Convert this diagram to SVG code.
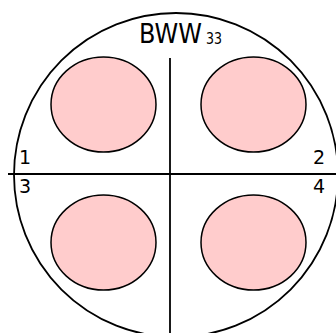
<svg xmlns="http://www.w3.org/2000/svg" width="336" height="333" viewBox="0 0 336 333">
<style>
.pin{fill:#ffcccc;stroke:#000;stroke-width:1.5}
.ln{stroke:#000;stroke-width:1.8;fill:none}
.lbl{font-family:"DejaVu Sans",sans-serif;font-size:19px;fill:#000}
.ttl{font-family:"DejaVu Sans",sans-serif;fill:#000}
</style>
<rect width="336" height="333" fill="#fff"/>
<g id="body">
<circle cx="176" cy="175" r="162" class="ln"/>
</g>
<g id="connectors">
<line x1="8" y1="174" x2="336" y2="174" class="ln"/>
<line x1="170" y1="58" x2="170" y2="333" class="ln"/>
</g>
<g id="title">
<text class="ttl" x="139" y="43" font-size="26" textLength="63" lengthAdjust="spacingAndGlyphs">BWW</text>
<text class="ttl" x="206" y="44" font-size="15" textLength="16" lengthAdjust="spacingAndGlyphs">33</text>
</g>
<g id="pin1">
<ellipse cx="103.5" cy="104.5" rx="52.5" ry="47.5" class="pin"/>
<text class="lbl" x="19" y="164">1</text>
</g>
<g id="pin2">
<ellipse cx="253.5" cy="104.5" rx="52.5" ry="47.5" class="pin"/>
<text class="lbl" x="325" y="164" text-anchor="end">2</text>
</g>
<g id="pin3">
<ellipse cx="103.5" cy="242.5" rx="52.5" ry="47.5" class="pin"/>
<text class="lbl" x="19" y="193">3</text>
</g>
<g id="pin4">
<ellipse cx="253.5" cy="242.5" rx="52.5" ry="47.5" class="pin"/>
<text class="lbl" x="325" y="193" text-anchor="end">4</text>
</g>
</svg>
